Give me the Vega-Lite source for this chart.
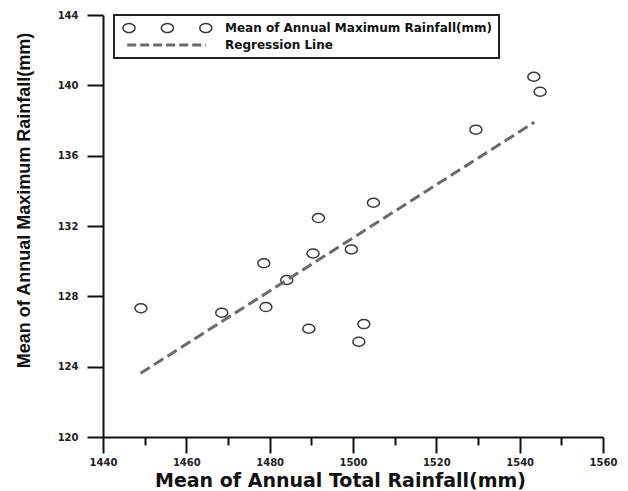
{
  "$schema": "https://vega.github.io/schema/vega-lite/v6.json",
  "width": 500,
  "height": 422,
  "autosize": {"type": "none"},
  "padding": {"left": 103, "top": 15, "right": 25, "bottom": 54},
  "background": "white",
  "config": {"view": {"stroke": null}, "font": "DejaVu Sans", "legend": {"strokeWidth": 2}},
  "datasets": {
    "points": [
      {"x": 1449.1, "y": 127.32, "series": "Mean of Annual Maximum Rainfall(mm)"},
      {"x": 1468.5, "y": 127.07, "series": "Mean of Annual Maximum Rainfall(mm)"},
      {"x": 1478.6, "y": 129.88, "series": "Mean of Annual Maximum Rainfall(mm)"},
      {"x": 1479.1, "y": 127.39, "series": "Mean of Annual Maximum Rainfall(mm)"},
      {"x": 1484.1, "y": 128.93, "series": "Mean of Annual Maximum Rainfall(mm)"},
      {"x": 1489.4, "y": 126.16, "series": "Mean of Annual Maximum Rainfall(mm)"},
      {"x": 1490.4, "y": 130.44, "series": "Mean of Annual Maximum Rainfall(mm)"},
      {"x": 1491.7, "y": 132.45, "series": "Mean of Annual Maximum Rainfall(mm)"},
      {"x": 1499.6, "y": 130.67, "series": "Mean of Annual Maximum Rainfall(mm)"},
      {"x": 1501.4, "y": 125.42, "series": "Mean of Annual Maximum Rainfall(mm)"},
      {"x": 1502.6, "y": 126.42, "series": "Mean of Annual Maximum Rainfall(mm)"},
      {"x": 1504.9, "y": 133.32, "series": "Mean of Annual Maximum Rainfall(mm)"},
      {"x": 1529.5, "y": 137.48, "series": "Mean of Annual Maximum Rainfall(mm)"},
      {"x": 1543.4, "y": 140.49, "series": "Mean of Annual Maximum Rainfall(mm)"},
      {"x": 1544.9, "y": 139.64, "series": "Mean of Annual Maximum Rainfall(mm)"}
    ],
    "line": [
      {"x": 1449.0, "y": 123.62, "series": "Regression Line"},
      {"x": 1543.5, "y": 137.9, "series": "Regression Line"}
    ]
  },
  "layer": [
    {
      "data": {"name": "points"},
      "mark": {
        "type": "point",
        "shape": "M -1,0 A 1,0.75 0 1,0 1,0 A 1,0.75 0 1,0 -1,0 Z",
        "size": 144,
        "filled": false,
        "strokeWidth": 1.5,
        "opacity": 1
      },
      "encoding": {
        "x": {
          "field": "x",
          "type": "quantitative",
          "scale": {"domain": [1440, 1560], "nice": false, "zero": false},
          "axis": {
            "values": [1440, 1450, 1460, 1470, 1480, 1490, 1500, 1510, 1520, 1530, 1540, 1550, 1560],
            "format": "d",
            "labelExpr": "datum.value % 20 === 0 ? datum.label : ''",
            "tickSize": {"condition": {"test": "datum.value % 20 === 0", "value": 16}, "value": 8},
            "tickWidth": 2,
            "tickColor": "#111",
            "domainColor": "#111",
            "domainWidth": 2,
            "labelFont": "DejaVu Sans",
            "labelFontWeight": "bold",
            "labelFontSize": 10,
            "labelColor": "#222",
            "labelPadding": 4,
            "labelFlush": false,
            "labelOverlap": false,
            "grid": false,
            "title": "Mean of Annual Total Rainfall(mm)",
            "titleFont": "DejaVu Sans",
            "titleFontSize": 19,
            "titleFontWeight": "bold",
            "titleColor": "#111",
            "titleX": 237,
            "titleY": 49.3,
            "titleBaseline": "alphabetic",
            "titleAlign": "center"
          }
        },
        "y": {
          "field": "y",
          "type": "quantitative",
          "scale": {"domain": [120, 144], "nice": false, "zero": false},
          "axis": {
            "values": [120, 122, 124, 126, 128, 130, 132, 134, 136, 138, 140, 142, 144],
            "format": "d",
            "labelExpr": "datum.value % 4 === 0 ? datum.label : ''",
            "tickSize": {"condition": {"test": "datum.value % 4 === 0", "value": 16}, "value": 8},
            "tickWidth": 2,
            "tickColor": "#111",
            "domainColor": "#111",
            "domainWidth": 2,
            "labelFont": "DejaVu Sans",
            "labelFontWeight": "bold",
            "labelFontSize": 10,
            "labelColor": "#222",
            "labelPadding": 9,
            "labelFlush": false,
            "labelOverlap": false,
            "grid": false,
            "title": "Mean of Annual Maximum Rainfall(mm)",
            "titleFont": "Liberation Sans",
            "titleFontSize": 18,
            "titleFontWeight": "bold",
            "titleColor": "#111",
            "titleAngle": -90,
            "titleX": -79,
            "titleY": 185,
            "titleBaseline": "middle",
            "titleAlign": "center"
          }
        },
        "color": {
          "field": "series",
          "type": "nominal",
          "scale": {
            "domain": ["Mean of Annual Maximum Rainfall(mm)", "Regression Line"],
            "range": ["#3a3a3a", "#6b6b6b"]
          },
          "legend": {
            "title": null,
            "orient": "none",
            "legendX": 11,
            "legendY": 0,
            "direction": "vertical",
            "padding": 7,
            "strokeColor": "#222",
            "fillColor": "white",
            "symbolSize": 144,
            "symbolType": {"expr": "datum.value === 'Regression Line' ? 'M -0.3,0 L 12.8,0' : 'M -1,0 A 1,0.75 0 1,0 1,0 A 1,0.75 0 1,0 -1,0 M 5.4,0 A 1,0.75 0 1,0 7.4,0 A 1,0.75 0 1,0 5.4,0 M 11.8,0 A 1,0.75 0 1,0 13.8,0 A 1,0.75 0 1,0 11.8,0'"},
            "symbolDash": {"expr": "datum.value === 'Regression Line' ? [9, 4] : [1, 0]"},
            "symbolStrokeWidth": {"expr": "datum.value === 'Regression Line' ? 3 : 1.5"},
            "symbolFillColor": "transparent",
            "symbolOpacity": 1,
            "symbolOffset": 2,
            "labelFont": "DejaVu Sans",
            "labelFontSize": 12,
            "labelFontWeight": "bold",
            "labelColor": "#111",
            "labelOffset": 90,
            "labelLimit": 400,
            "rowPadding": 3,
            "encode": {
              "legend": {
                "strokeWidth": {"value": 2}
              }
            }
          }
        }
      }
    },
    {
      "data": {"name": "line"},
      "mark": {"type": "line", "strokeDash": [11, 5], "strokeWidth": 3},
      "encoding": {
        "x": {"field": "x", "type": "quantitative"},
        "y": {"field": "y", "type": "quantitative"},
        "color": {"field": "series", "type": "nominal"}
      }
    }
  ]
}
